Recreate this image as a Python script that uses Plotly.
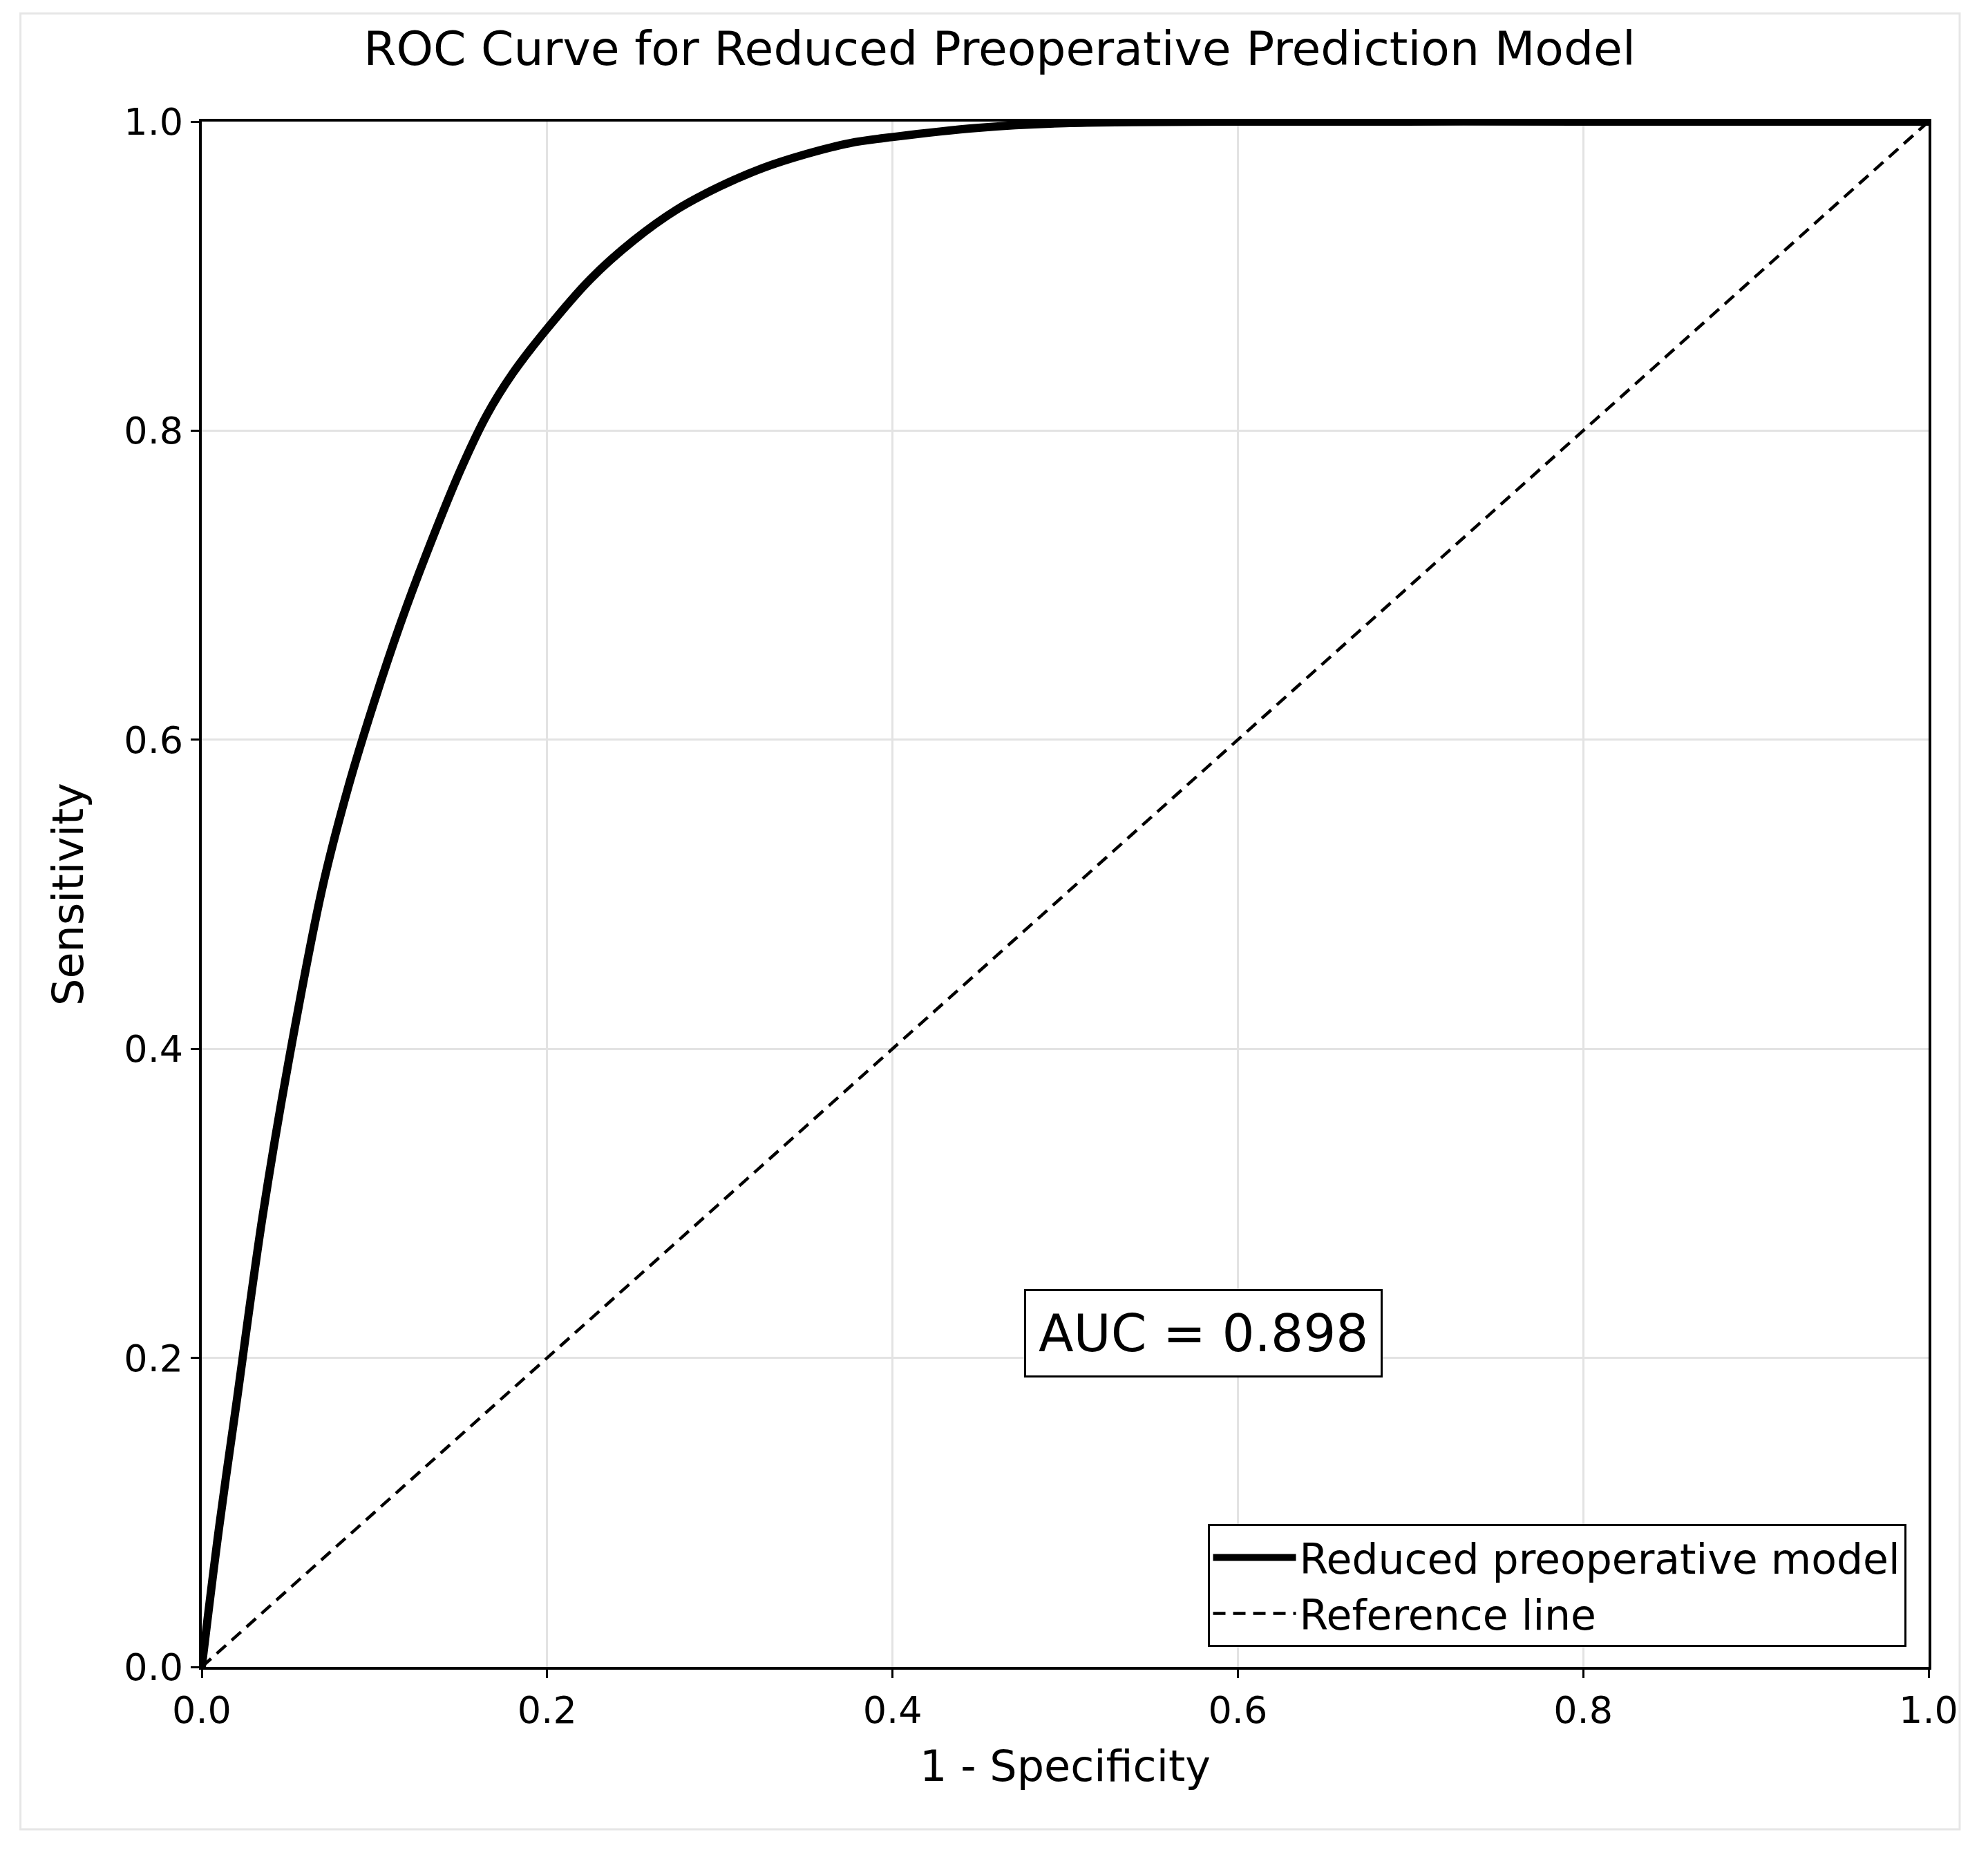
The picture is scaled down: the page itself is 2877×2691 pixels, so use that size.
import plotly.graph_objects as go

# ROC curve values
fpr = [0.0, 0.01, 0.02, 0.035, 0.05, 0.07, 0.085, 0.1, 0.115, 0.13, 0.15, 0.165, 0.18, 0.2, 0.225, 0.25,
       0.275, 0.3, 0.325, 0.35, 0.375, 0.4, 0.45, 0.5, 0.6, 0.8, 1.0]
tpr = [0.0, 0.09, 0.17, 0.29, 0.39, 0.505, 0.57, 0.625, 0.675, 0.72, 0.775, 0.81, 0.837, 0.866, 0.898, 0.923,
       0.943, 0.958, 0.97, 0.979, 0.986, 0.99, 0.996, 0.999, 1.0, 1.0, 1.0]
ref_x = [0.0, 1.0]
ref_y = [0.0, 1.0]
auc_text = "AUC = 0.898"
ticks = [0.0, 0.2, 0.4, 0.6, 0.8, 1.0]

font = "DejaVu Sans"

fig = go.Figure()
fig.add_trace(go.Scatter(x=fpr, y=tpr, mode="lines", name="Reduced preoperative model",
                         line=dict(color="black", width=12, shape="spline", smoothing=1.0)))
fig.add_trace(go.Scatter(x=ref_x, y=ref_y, mode="lines", name="Reference line",
                         line=dict(color="black", width=4.5, dash="18px,11px")))

axis = dict(range=[0, 1], tickvals=ticks, ticktext=[f"{t:.1f}" for t in ticks],
            showgrid=True, gridcolor="#e3e3e3", gridwidth=3,
            showline=True, linecolor="black", linewidth=4, mirror=True,
            ticks="outside", ticklen=12, tickwidth=3, tickcolor="black",
            zeroline=False, tickfont=dict(size=54, color="black"))

fig.update_layout(
    width=2877, height=2691,
    paper_bgcolor="white", plot_bgcolor="white",
    font=dict(family=font, color="black"),
    margin=dict(l=284, r=94, t=168, b=286),
    title=dict(text="ROC Curve for Reduced Preoperative Prediction Model",
               x=0.5, xanchor="center", y=0.977, yanchor="middle",
               font=dict(size=68, color="black")),
    xaxis=dict(axis, title=dict(text="1 - Specificity", font=dict(size=62), standoff=30)),
    yaxis=dict(axis, title=dict(text="Sensitivity", font=dict(size=62), standoff=40)),
    legend=dict(x=0.987, y=0.013, xanchor="right", yanchor="bottom",
                bgcolor="white", bordercolor="black", borderwidth=3,
                font=dict(size=60), itemwidth=120),
    annotations=[dict(x=0.58, y=0.216, xref="x", yref="y", text=auc_text, showarrow=False,
                      font=dict(size=74, color="black"), bgcolor="white",
                      bordercolor="black", borderwidth=3, borderpad=18)],
    shapes=[dict(type="rect", xref="paper", yref="paper", x0=-0.105, x1=1.018, y0=-0.105, y1=1.07,
                 line=dict(color="#e6e6e6", width=3))],
)

fig.write_html("out.html")
